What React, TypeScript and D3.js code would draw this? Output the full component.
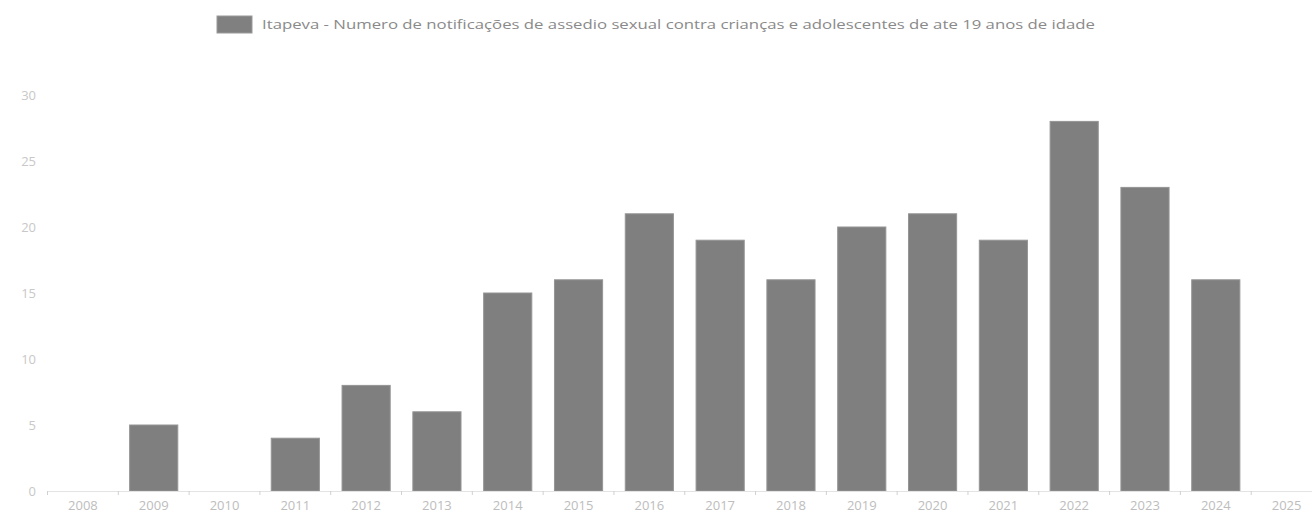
import React from "react";
import * as d3 from "d3";

const years = ["2008","2009","2010","2011","2012","2013","2014","2015","2016","2017","2018","2019","2020","2021","2022","2023","2024","2025"];
const values = [0,5,0,4,8,6,15,16,21,19,16,20,21,19,28,23,16,0];
const yTicks = [0,5,10,15,20,25,30];
const legendLabel = "Itapeva - Numero de notificações de assedio sexual contra crianças e adolescentes de ate 19 anos de idade";

const W = 1312, H = 517;
const left = 47.5, right = 1322, top = 95, bottom = 491;

export default function App() {
  const x = d3.scaleBand<string>().domain(years).range([left, right]).paddingInner(0).paddingOuter(0);
  const y = d3.scaleLinear().domain([0, 30]).range([bottom, top]);
  const bw = x.bandwidth() * 0.68;
  const font = "'Open Sans', sans-serif";
  return (
    <svg width={W} height={H} style={{ position: "absolute", left: 0, top: 0 }} fontFamily={font}>
      <rect x={0} y={0} width={W} height={H} fill="#fff" />
      {/* legend */}
      <rect x={217} y={16} width={35} height={17} fill="#808080" stroke="#9a9a9a" strokeWidth={1} />
      <text x={262} y={29} fontSize={13.5} fill="#8a8a8a" textLength={833} lengthAdjust="spacingAndGlyphs">{legendLabel}</text>
      {/* y labels */}
      {yTicks.map(t => (
        <text key={t} x={36} y={y(t)} dy="0.35em" textAnchor="end" fontSize={13} fill="#c8c8c8">{t}</text>
      ))}
      {/* bars */}
      {values.map((v, i) => v > 0 ? (
        <rect key={years[i]} x={x(years[i])! + (x.bandwidth() - bw) / 2} y={y(v)} width={bw} height={y(0) - y(v)}
          fill="#7f7f7f" stroke="#959595" strokeWidth={1} />
      ) : null)}
      {/* x axis */}
      <line x1={left} x2={right} y1={bottom + 0.5} y2={bottom + 0.5} stroke="#e3e3e3" />
      {years.map((yr) => (
        <line key={"t" + yr} x1={x(yr)!} x2={x(yr)!} y1={bottom} y2={bottom + 4} stroke="#d0d0d0" />
      ))}
      {years.map(yr => (
        <text key={"l" + yr} x={x(yr)! + x.bandwidth() / 2} y={510} textAnchor="middle" fontSize={13} fill="#bdbdbd">{yr}</text>
      ))}
    </svg>
  );
}
